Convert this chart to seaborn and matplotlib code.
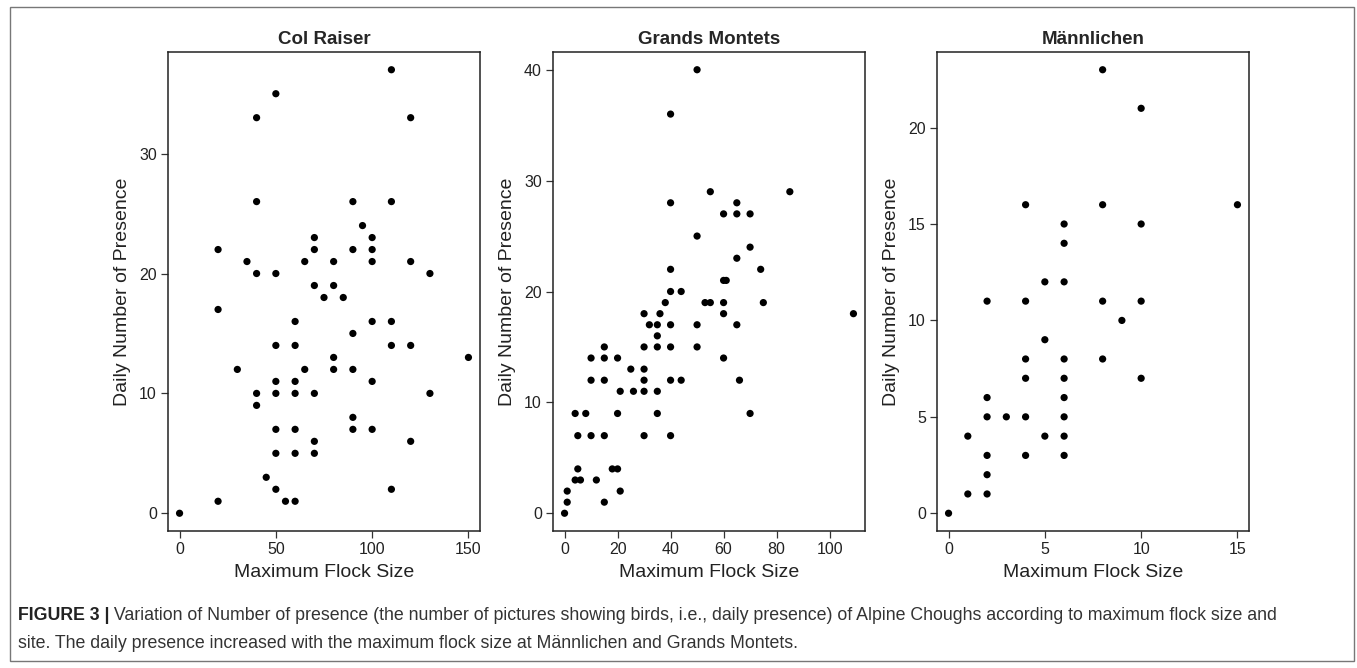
import matplotlib
matplotlib.use("Agg")
import matplotlib.pyplot as plt
import seaborn as sns
import pandas as pd
from matplotlib.patches import Rectangle

# Col Raiser
col_x = [110, 50, 40, 120, 40, 90, 110, 95, 70, 100, 20, 70, 90, 100, 35, 65, 80, 100, 120,
         40, 50, 130, 70, 80, 75, 85, 20, 60, 100, 110, 90, 50, 60, 110, 120, 80, 150, 30, 65,
         80, 90, 50, 60, 100, 40, 50, 60, 70, 130, 40, 90, 50, 60, 90, 100, 70, 120, 50, 60,
         70, 45, 50, 110, 20, 55, 60, 0]
col_y = [37, 35, 33, 33, 26, 26, 26, 24, 23, 23, 22, 22, 22, 22, 21, 21, 21, 21, 21,
         20, 20, 20, 19, 19, 18, 18, 17, 16, 16, 16, 15, 14, 14, 14, 14, 13, 13, 12, 12,
         12, 12, 11, 11, 11, 10, 10, 10, 10, 10, 9, 8, 7, 7, 7, 7, 6, 6, 5, 5,
         5, 3, 2, 2, 1, 1, 1, 0]

# Grands Montets
gm_x = [50, 40, 55, 85, 40, 65, 60, 65, 70, 50, 70, 65, 40, 74, 60, 61, 40, 44, 38, 53,
        55, 60, 75, 30, 36, 60, 109, 32, 35, 40, 50, 65, 35, 30, 35, 40, 50, 15, 10, 15,
        20, 60, 25, 30, 10, 15, 30, 40, 44, 66, 21, 26, 30, 35, 4, 8, 20, 35, 70, 5,
        10, 15, 30, 40, 5, 18, 20, 4, 6, 12, 1, 21, 1, 15, 0]
gm_y = [40, 36, 29, 29, 28, 28, 27, 27, 27, 25, 24, 23, 22, 22, 21, 21, 20, 20, 19, 19,
        19, 19, 19, 18, 18, 18, 18, 17, 17, 17, 17, 17, 16, 15, 15, 15, 15, 15, 14, 14,
        14, 14, 13, 13, 12, 12, 12, 12, 12, 12, 11, 11, 11, 11, 9, 9, 9, 9, 9, 7,
        7, 7, 7, 7, 4, 4, 4, 3, 3, 3, 2, 2, 1, 1, 0]

# Männlichen
mn_x = [8, 10, 4, 8, 15, 6, 10, 6, 5, 6, 2, 4, 8, 10, 9, 5, 4, 6, 8, 4, 6, 10,
        2, 6, 2, 3, 4, 6, 1, 5, 6, 2, 4, 6, 2, 1, 2, 0]
mn_y = [23, 21, 16, 16, 16, 15, 15, 14, 12, 12, 11, 11, 11, 11, 10, 9, 8, 8, 8, 7, 7, 7,
        6, 6, 5, 5, 5, 5, 4, 4, 4, 3, 3, 3, 2, 1, 1, 0]

titles = ["Col Raiser", "Grands Montets", "Männlichen"]
xticks = [[0, 50, 100, 150], [0, 20, 40, 60, 80, 100], [0, 5, 10, 15]]
yticks = [[0, 10, 20, 30], [0, 10, 20, 30, 40], [0, 5, 10, 15, 20]]

caption_bold = "FIGURE 3 |"
caption_1 = (" Variation of Number of presence (the number of pictures showing birds, i.e., daily presence)"
             " of Alpine Choughs according to maximum flock size and")
caption_2 = "site. The daily presence increased with the maximum flock size at Männlichen and Grands Montets."

sns.set_style("ticks")
plt.rcParams["font.family"] = ["Liberation Sans", "DejaVu Sans"]

W, H = 1357, 668
fig = plt.figure(figsize=(W / 100, H / 100), dpi=100)

lefts = [168, 553, 937]
data = [(col_x, col_y), (gm_x, gm_y), (mn_x, mn_y)]

for i, (xs, ys) in enumerate(data):
    ax = fig.add_axes([lefts[i] / W, 1 - 531 / H, 312 / W, 479 / H])
    df = pd.DataFrame({"x": xs, "y": ys})
    sns.scatterplot(data=df, x="x", y="y", ax=ax, color="black", s=27,
                    edgecolor="none", linewidth=0)
    # R style 4% padding
    xr = max(xs) - min(xs)
    yr = max(ys) - min(ys)
    ax.set_xlim(min(xs) - 0.04 * xr, max(xs) + 0.04 * xr)
    ax.set_ylim(min(ys) - 0.04 * yr, max(ys) + 0.04 * yr)
    ax.set_xticks(xticks[i])
    ax.set_yticks(yticks[i])
    for sp in ax.spines.values():
        sp.set_visible(True)
        sp.set_color("#222222")
        sp.set_linewidth(1.1)
    ax.tick_params(length=5, width=0.9, color="#333333", labelsize=11.5,
                   labelcolor="#222222", pad=3)
    ax.set_xlabel("Maximum Flock Size", fontsize=14, color="#222222", labelpad=5)
    ax.set_ylabel("Daily Number of Presence", fontsize=14, color="#222222", labelpad=6)
    ax.set_title(titles[i], fontsize=13.5, fontweight="bold", pad=6)

# outer frame
fig.patches.append(Rectangle((10 / W, 1 - 661 / H), 1344 / W, 654 / H, transform=fig.transFigure,
                             fill=False, edgecolor="#777777", linewidth=1))

cap_font = ["Liberation Sans Narrow", "Liberation Sans", "DejaVu Sans"]
t = fig.text(18 / W, 1 - 616 / H, caption_bold, fontsize=12.8, fontweight="bold",
             family=cap_font, color="#222222", va="center")
fig.canvas.draw()
bb = t.get_window_extent()
fig.text(bb.x1 / W, 1 - 616 / H, caption_1, fontsize=12.8, family=cap_font,
         color="#333333", va="center")
fig.text(18 / W, 1 - 643 / H, caption_2, fontsize=12.8, family=cap_font,
         color="#333333", va="center")

fig.savefig("out.png", dpi=100)
